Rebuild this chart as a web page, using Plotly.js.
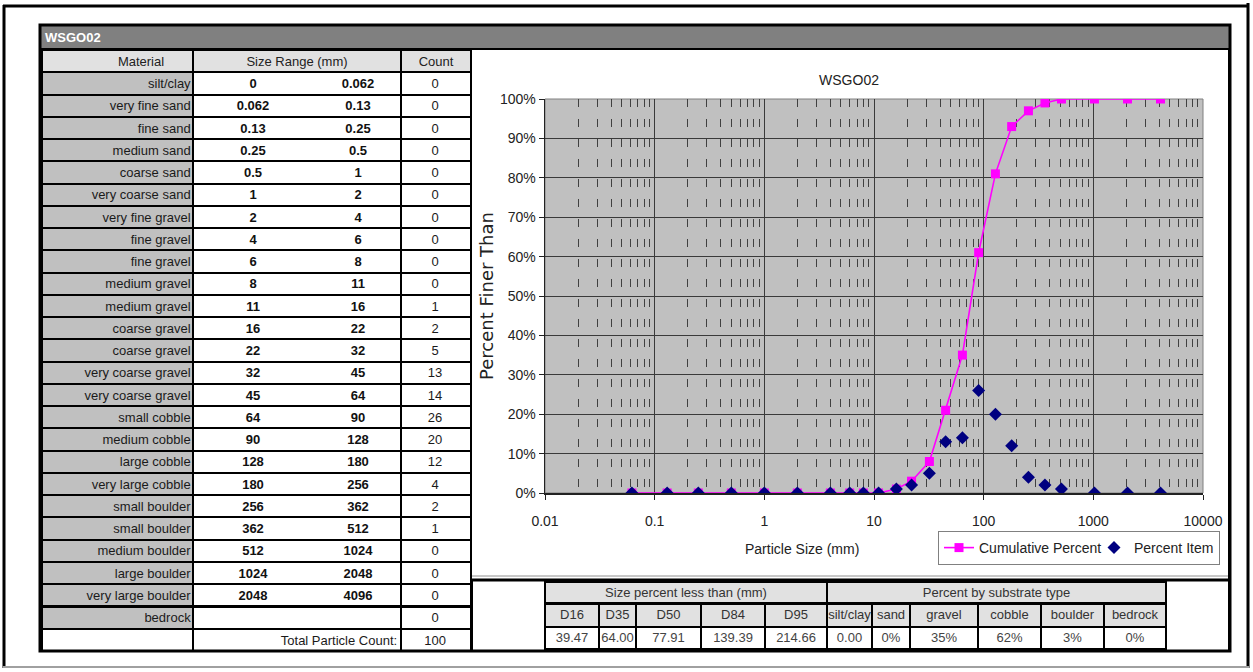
<!DOCTYPE html>
<html>
<head>
<meta charset="utf-8">
<script src="https://cdn.plot.ly/plotly-3.0.1.min.js"></script>
<style>
html,body{margin:0;padding:0;background:#fff;}
#chart{width:1253px;height:672px;}
</style>
</head>
<body>
<div id="chart"></div>
<script>
// ---------- data ----------
const siteName = 'WSGO02';
const leftHeaders = ['Material', 'Size Range (mm)', 'Count'];
const materials = ['silt/clay','very fine sand','fine sand','medium sand','coarse sand','very coarse sand',
  'very fine gravel','fine gravel','fine gravel','medium gravel','medium gravel','coarse gravel','coarse gravel',
  'very coarse gravel','very coarse gravel','small cobble','medium cobble','large cobble','very large cobble',
  'small boulder','small boulder','medium boulder','large boulder','very large boulder','bedrock'];
const sizeLower = ['0','0.062','0.13','0.25','0.5','1','2','4','6','8','11','16','22','32','45','64','90','128','180','256','362','512','1024','2048',''];
const sizeUpper = ['0.062','0.13','0.25','0.5','1','2','4','6','8','11','16','22','32','45','64','90','128','180','256','362','512','1024','2048','4096',''];
const counts = [0,0,0,0,0,0,0,0,0,0,1,2,5,13,14,26,20,12,4,2,1,0,0,0,0];
const totalLabel = 'Total Particle Count:';
const totalCount = 100;

const particleSize = [0.062,0.13,0.25,0.5,1,2,4,6,8,11,16,22,32,45,64,90,128,180,256,362,512,1024,2048,4096];
const cumulativePercent = [0,0,0,0,0,0,0,0,0,0,1,3,8,21,35,61,81,93,97,99,100,100,100,100];
const percentItem = [0,0,0,0,0,0,0,0,0,0,1,2,5,13,14,26,20,12,4,2,1,0,0,0];

const xTickVals = [0.01, 0.1, 1, 10, 100, 1000, 10000];
const xTickText = ['0.01', '0.1', '1', '10', '100', '1000', '10000'];

const groupHeaders = ['Size percent less than (mm)','Percent by substrate type'];
const dLabels = ['D16','D35','D50','D84','D95'];
const dValues = ['39.47','64.00','77.91','139.39','214.66'];
const substrateLabels = ['silt/clay','sand','gravel','cobble','boulder','bedrock'];
const substrateValues = ['0.00','0%','35%','62%','3%','0%'];

// ---------- helpers ----------
const W = 1253, H = 672;
const px = x => x / W;
const py = y => 1 - y / H;
const SANS = '"Liberation Sans",Arial,sans-serif';
const ROWH = 22.26;
const CLEAR = 'rgba(0,0,0,0)';
const TXT = 13;
const LIFT = 2;   // text tables drawn slightly higher to centre text in the rows

const blank = a => a.map(() => '');

// grid (fills + borders) of left table
const leftGrid = {
  type: 'table',
  domain: {x: [px(42), px(471)], y: [py(653), py(50)]},
  columnwidth: [151, 208, 70],
  header: {values: ['', '', ''], height: ROWH, fill: {color: '#e1e1e1'}, line: {color: '#000', width: 2}},
  cells: {
    values: [blank(materials).concat(['']), blank(materials).concat(['']), blank(materials).concat([''])],
    height: ROWH,
    fill: {color: [materials.map(() => '#c0c0c0').concat(['#ffffff']), '#ffffff', '#ffffff']},
    line: {color: '#000', width: 2}
  }
};
// header text of left table
const leftHeaderText = {
  type: 'table',
  domain: {x: [px(82), px(478)], y: [py(653 - LIFT), py(50 - LIFT)]},
  columnwidth: [118, 194, 84],
  header: {values: leftHeaders, height: ROWH, fill: {color: CLEAR}, line: {color: CLEAR, width: 0},
           align: 'center', font: {family: SANS, size: TXT, color: '#222'}},
  cells: {values: [[], [], []]}
};
// body text of left table
const leftBodyText = {
  type: 'table',
  domain: {x: [px(42), px(466)], y: [py(653 - LIFT), py(50 - LIFT)]},
  columnwidth: [157, 207, 60],
  header: {values: ['', '', ''], height: ROWH, fill: {color: CLEAR}, line: {color: CLEAR, width: 0}},
  cells: {
    values: [materials.concat(['']), blank(materials).concat([totalLabel]), counts.map(String).concat([String(totalCount)])],
    height: ROWH,
    fill: {color: CLEAR}, line: {color: CLEAR, width: 0},
    align: ['right', 'right', 'center'],
    font: {family: SANS, size: TXT, color: '#1a1a1a'}
  }
};
// size range values (bold)
const leftVals = {
  type: 'table',
  domain: {x: [px(203), px(413)], y: [py(653 - LIFT), py(50 - LIFT)]},
  columnwidth: [100, 110],
  header: {values: ['', ''], height: ROWH, fill: {color: CLEAR}, line: {color: CLEAR, width: 0}},
  cells: {
    values: [sizeLower.concat(['']), sizeUpper.concat([''])],
    height: ROWH,
    fill: {color: CLEAR}, line: {color: CLEAR, width: 0},
    align: 'center',
    font: {family: SANS, size: TXT, color: '#111', weight: 'bold'}
  }
};

const BLIFT = 3;
const bottomWidths = [54, 37, 65, 64, 62, 45, 38, 68, 63, 63, 62];
const bottomLabels = dLabels.concat(substrateLabels);
const bottomValues = dValues.concat(substrateValues);

const bottomGroupGrid = {
  type: 'table',
  domain: {x: [px(545), px(1166)], y: [py(604), py(582)]},
  columnwidth: [282, 339],
  header: {values: ['', ''], height: 21, fill: {color: '#e1e1e1'}, line: {color: '#000', width: 2}},
  cells: {values: [[], []]}
};
const bottomGroupText = {
  type: 'table',
  domain: {x: [px(545), px(1166)], y: [py(604 - BLIFT), py(582 - BLIFT)]},
  columnwidth: [282, 339],
  header: {values: groupHeaders, height: 21, fill: {color: CLEAR}, line: {color: CLEAR, width: 0},
           align: 'center', font: {family: SANS, size: TXT, color: '#333'}},
  cells: {values: [[], []]}
};
const bottomGrid = {
  type: 'table',
  domain: {x: [px(545), px(1166)], y: [py(652), py(604)]},
  columnwidth: bottomWidths,
  header: {values: blank(bottomLabels), height: 23, fill: {color: '#e1e1e1'}, line: {color: '#000', width: 2}},
  cells: {values: bottomValues.map(() => ['']), height: 22, fill: {color: '#ffffff'}, line: {color: '#000', width: 2}}
};
const bottomText = {
  type: 'table',
  domain: {x: [px(545), px(1166)], y: [py(652 - BLIFT), py(604 - BLIFT)]},
  columnwidth: bottomWidths,
  header: {values: bottomLabels, height: 23, fill: {color: CLEAR}, line: {color: CLEAR, width: 0},
           align: 'center', font: {family: SANS, size: TXT, color: '#333'}},
  cells: {values: bottomValues.map(v => [v]), height: 22, fill: {color: CLEAR}, line: {color: CLEAR, width: 0},
          align: 'center', font: {family: SANS, size: TXT, color: '#444'}}
};

const cumTrace = {
  type: 'scatter', mode: 'lines+markers', name: 'Cumulative Percent',
  x: particleSize, y: cumulativePercent,
  xaxis: 'x', yaxis: 'y',
  legendwidth: 110,
  line: {color: '#ff00ff', width: 1.6},
  marker: {symbol: 'square', size: 9, color: '#ff00ff'}
};
const itemTrace = {
  type: 'scatter', mode: 'markers', name: 'Percent Item',
  x: particleSize, y: percentItem,
  xaxis: 'x', yaxis: 'y',
  marker: {symbol: 'diamond', size: 10, color: '#000080'}
};

function rect(x0, y0, x1, y1, opts) {
  return Object.assign({type: 'rect', xref: 'paper', yref: 'paper',
    x0: px(x0), x1: px(x1), y0: py(y0), y1: py(y1), layer: 'above'}, opts);
}
function hline(x0, x1, y, color, width) {
  return {type: 'line', xref: 'paper', yref: 'paper', x0: px(x0), x1: px(x1), y0: py(y), y1: py(y),
    line: {color: color, width: width}, layer: 'above'};
}
function vline(x, y0, y1, color, width) {
  return {type: 'line', xref: 'paper', yref: 'paper', x0: px(x), x1: px(x), y0: py(y0), y1: py(y1),
    line: {color: color, width: width}, layer: 'above'};
}

const shapes = [
  hline(3, 1249, 6, '#000', 3),
  vline(4, 5, 668, '#000', 3),
  vline(1248, 3, 668, '#000', 3),
  hline(3, 1249, 667, '#a0a0a0', 2),
  rect(41, 26, 1229, 48, {fillcolor: '#808080', line: {width: 0}, layer: 'below'}),
  hline(40, 1230, 49, '#000', 2),
  hline(472, 1228, 576, '#909090', 1),
  hline(471, 1229, 580, '#000', 3),
  vline(1229, 48, 651, '#000', 2),
  rect(472, 580, 545, 651, {line: {color: '#000', width: 2}}),
  rect(1166, 580, 1229, 651, {line: {color: '#000', width: 2}}),
  rect(40, 25, 1230, 651, {line: {color: '#000', width: 3}}),
  {type: 'rect', xref: 'x domain', yref: 'y domain', x0: 0, x1: 1, y0: 0, y1: 1,
   line: {color: '#808080', width: 1}, layer: 'below'}
];

const annotations = [
  {text: '<b>' + siteName + '</b>', xref: 'paper', yref: 'paper', x: px(43), y: py(37),
   xanchor: 'left', yanchor: 'middle', showarrow: false,
   font: {family: SANS, size: 13, color: '#ffffff'}},
  {text: 'Particle Size (mm)', xref: 'paper', yref: 'paper', x: px(802), y: py(549),
   xanchor: 'center', yanchor: 'middle', showarrow: false,
   font: {family: SANS, size: 14, color: '#222'}}
];

const layout = {
  width: W, height: H,
  margin: {l: 0, r: 0, t: 0, b: 0, pad: 0},
  paper_bgcolor: '#ffffff',
  plot_bgcolor: '#c0c0c0',
  showlegend: true,
  title: {text: siteName, x: px(849), y: py(80), xref: 'paper', yref: 'paper',
          xanchor: 'center', yanchor: 'middle', font: {family: SANS, size: 14, color: '#222'}},
  xaxis: {
    type: 'log', range: [-2, 4], domain: [px(545), px(1203)], anchor: 'y',
    tickmode: 'array', tickvals: xTickVals, ticktext: xTickText,
    showgrid: true, gridcolor: '#3a3a3a', gridwidth: 1,
    ticks: 'outside', ticklen: 5, tickcolor: '#222',
    showline: true, linecolor: '#222', linewidth: 2,
    zeroline: false, ticklabelstandoff: 9,
    tickfont: {family: SANS, size: 14, color: '#222'},
    minor: {dtick: 'D1', showgrid: true, gridcolor: '#404040', gridwidth: 1, griddash: '8px,12px'},
    fixedrange: true
  },
  yaxis: {
    range: [0, 100], domain: [py(493), py(99)], anchor: 'x',
    dtick: 10, ticksuffix: '%',
    showgrid: true, gridcolor: '#3a3a3a', gridwidth: 1,
    ticks: 'outside', ticklen: 5, tickcolor: '#222',
    showline: true, linecolor: '#222', linewidth: 1.5,
    zeroline: false,
    tickfont: {family: SANS, size: 14, color: '#222'},
    title: {text: 'Percent Finer Than', standoff: 1,
            font: {family: '"DejaVu Sans",Verdana,sans-serif', size: 18, color: '#222'}},
    fixedrange: true
  },
  legend: {
    orientation: 'h', x: px(938), y: py(531), xanchor: 'left', yanchor: 'top',
    bgcolor: '#ffffff', bordercolor: '#808080', borderwidth: 1,
    font: {family: SANS, size: 14, color: '#222'}
  },
  shapes: shapes,
  annotations: annotations
};

Plotly.newPlot('chart',
  [leftGrid, leftHeaderText, leftBodyText, leftVals,
   bottomGroupGrid, bottomGroupText, bottomGrid, bottomText,
   cumTrace, itemTrace],
  layout, {staticPlot: true, displayModeBar: false});
</script>
</body>
</html>
